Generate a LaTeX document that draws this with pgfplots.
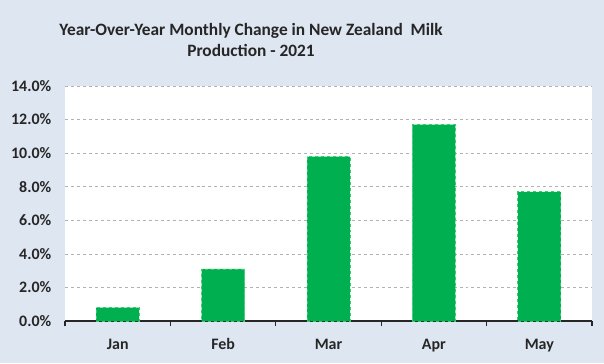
\documentclass[border=0pt]{standalone}
\usepackage{pgfplots}
\pgfplotsset{compat=1.18}
\usepackage{fontspec}
\setmainfont{Carlito}
\definecolor{bg}{HTML}{DEE6F1}
\definecolor{bargreen}{HTML}{00B050}
\definecolor{baredge}{HTML}{3CCB6E}
\begin{document}
\begin{tikzpicture}[x=1bp,y=1bp]
\useasboundingbox (0,0) rectangle (604,363);
\fill[bg] (0,0) rectangle (604,363);
\node[font=\bfseries\fontsize{17.4}{22}\selectfont, align=center, text=black!85] at (251,323) {Year-Over-Year Monthly Change in New Zealand~~Milk\\Production - 2021};
\begin{axis}[
  at={(65bp,42bp)}, anchor=south west,
  scale only axis, width=527bp, height=235bp,
  xmin=-0.5, xmax=4.5, ymin=0, ymax=14,
  axis background/.style={fill=white},
  axis x line*=bottom, axis y line*=left,
  y axis line style={draw=none},
  x axis line style={black!85, line width=1.1pt, -},
  xtick={0,1,2,3,4},
  xticklabels={Jan,Feb,Mar,Apr,May},
  major x tick style={draw=none},
  minor xtick={-0.5,0.5,1.5,2.5,3.5,4.5},
  minor x tick style={black!85, line width=1.1pt},
  minor tick length=5bp,
  tick align=outside,
  ytick={0,2,...,14},
  major y tick style={draw=none},
  ymajorgrids,
  grid style={dashed, gray!60, line width=0.6pt},
  /pgf/number format/assume math mode=true,
  yticklabel={\pgfmathprintnumber[fixed,fixed zerofill,precision=1]{\tick}\%},
  ticklabel style={font=\bfseries\fontsize{16}{19}\selectfont, text=black!85},
  yticklabel style={xshift=-6bp},
  xticklabel style={yshift=-10bp},
  ybar, bar width=43bp,
]
\addplot[fill=bargreen, draw=baredge, dashed, line width=0.8pt] coordinates {(0,0.8) (1,3.1) (2,9.8) (3,11.7) (4,7.7)};
\end{axis}
\end{tikzpicture}
\end{document}
